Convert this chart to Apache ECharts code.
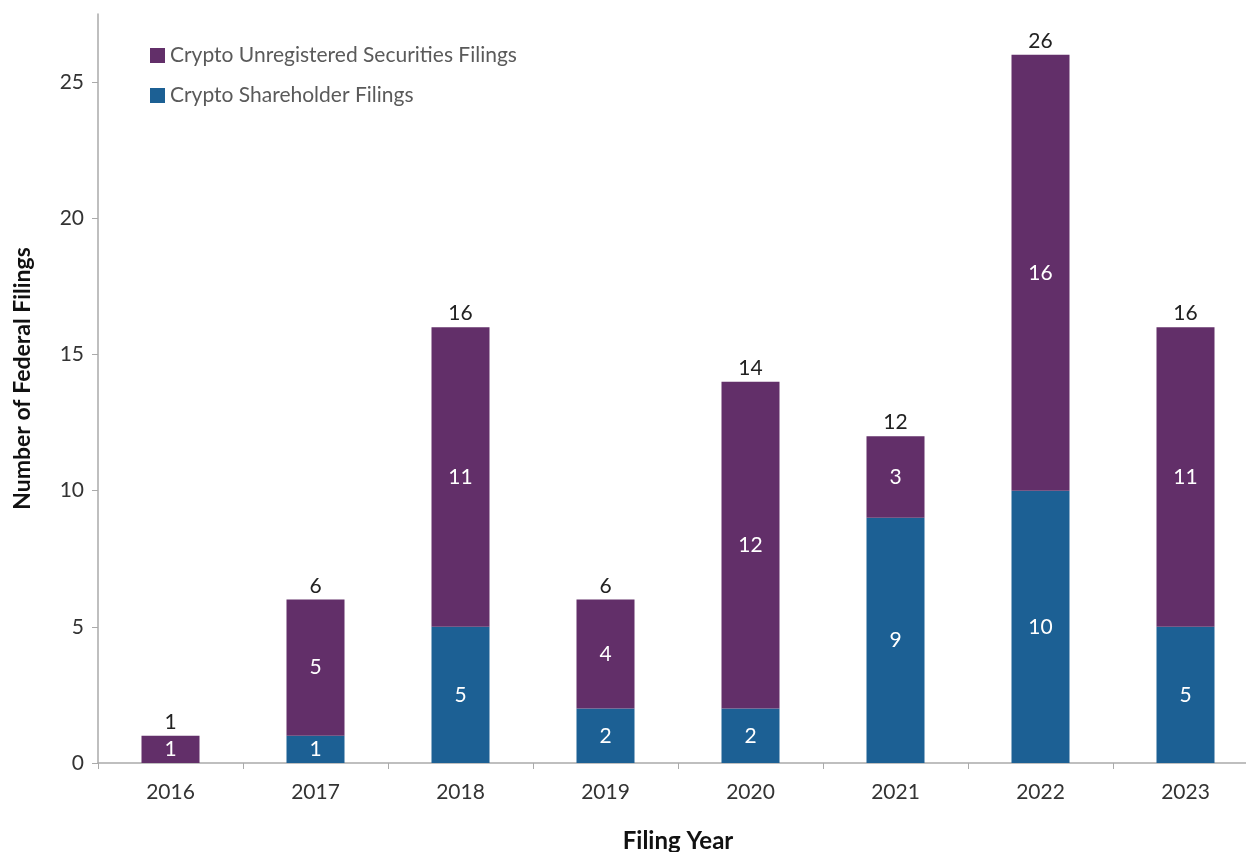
<!DOCTYPE html>
<html><head><meta charset="utf-8">
<script src="https://cdn.jsdelivr.net/npm/echarts@6/dist/echarts.min.js"></script>
<style>html,body{margin:0;padding:0;background:#fff}#c{width:1246px;height:852px}</style>
</head><body><div id="c"></div>
<script>
const years = ['2016','2017','2018','2019','2020','2021','2022','2023'];
const shareholder = [0,1,5,2,2,9,10,5];
const unregistered = [1,5,11,4,12,3,16,11];
const totals = [1,6,16,6,14,12,26,16];
const yTicks = [0,5,10,15,20,25];

const chart = echarts.init(document.getElementById('c'), null, {renderer:'canvas'});
const font = 'Lato';
const inLabel = {show:true, position:'inside', color:'#fff', fontFamily:font, fontSize:21,
  formatter: p => p.value ? String(p.value) : ''};
chart.setOption({
  animation:false,
  textStyle:{fontFamily:font},
  grid:{left:98, right:-12, top:14, bottom:89, containLabel:false, outerBoundsMode:'none'},
  legend:{
    data:['Crypto Unregistered Securities Filings','Crypto Shareholder Filings'],
    orient:'vertical', left:145, top:40, itemWidth:15, itemHeight:15, itemGap:19,
    textStyle:{fontFamily:font, fontSize:21, color:'#5a5a5a'}, icon:'rect'
  },
  xAxis:{
    type:'category', data:years, boundaryGap:true,
    axisLine:{lineStyle:{color:'#aaa', width:1.5}},
    axisTick:{show:true, length:6, lineStyle:{color:'#aaa'}},
    axisLabel:{fontFamily:font, fontSize:21, color:'#333', margin:19},
    name:'Filing Year', nameLocation:'middle', nameGap:66,
    nameTextStyle:{fontFamily:font, fontSize:24, fontWeight:'bold', color:'#111'}
  },
  yAxis:{
    type:'value', min:0, max:27.5, interval:5,
    axisLine:{show:true, lineStyle:{color:'#aaa', width:1.5}},
    axisTick:{show:true, length:6, lineStyle:{color:'#aaa'}, customValues:yTicks},
    axisLabel:{fontFamily:font, fontSize:21, color:'#333', margin:14, customValues:yTicks},
    splitLine:{show:false},
    name:'Number of Federal Filings', nameLocation:'middle', nameGap:64,
    nameTextStyle:{fontFamily:font, fontSize:23, fontWeight:'bold', color:'#111', padding:[0,0,0,20]}
  },
  series:[
    {name:'Crypto Shareholder Filings', type:'bar', stack:'s', data:shareholder, barWidth:'40%',
      itemStyle:{color:'#1c6094'}, label:inLabel},
    {name:'Crypto Unregistered Securities Filings', type:'bar', stack:'s', data:unregistered, barWidth:'40%',
      itemStyle:{color:'#622f69'}, label:inLabel},
    {name:'total', type:'bar', stack:'s', data:totals.map(()=>0), barWidth:'40%',
      itemStyle:{color:'transparent'},
      label:{show:true, position:'top', distance:3, color:'#222', fontFamily:font, fontSize:21,
        formatter: p => String(totals[p.dataIndex])}}
  ]
});
</script></body></html>
